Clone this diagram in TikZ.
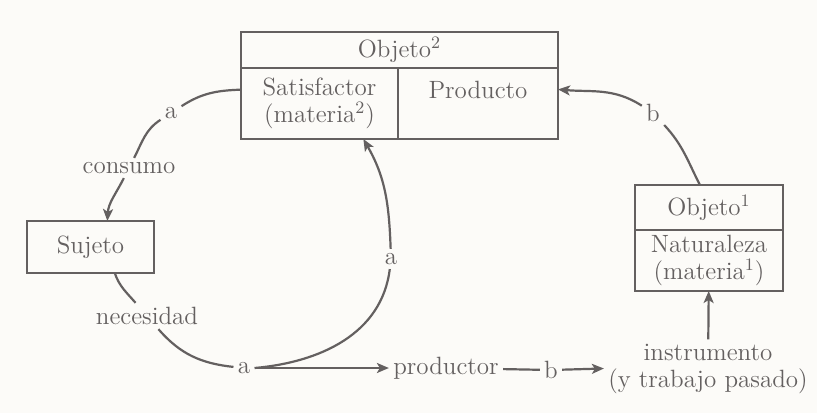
\documentclass[tikz,border=0pt]{standalone}
\usetikzlibrary{positioning,arrows.meta}
\definecolor{ink}{RGB}{100,96,96}
\definecolor{paper}{RGB}{252,251,248}
\tikzset{
  cell/.style={draw=ink, line width=1pt, inner sep=0pt, outer sep=0pt, align=center, text=ink},
  lbl/.style={text=ink, inner sep=2pt, align=center},
  flow/.style={draw=ink, line width=1.1pt},
  arr/.style={flow, -{Stealth[length=6pt,width=5pt,inset=1.5pt]}},
}
\begin{document}
\begin{tikzpicture}[x=0.5pt, y=0.5pt, font=\fontsize{12.5}{13.5}\selectfont]
\fill[paper] (0,0) rectangle (817,413);
\useasboundingbox (0,0) rectangle (817,413);

% Objeto 2
\node[cell, minimum width=158.5pt, minimum height=18pt] (obj2) at (399.5,363) {Objeto\textsuperscript{2}};
\node[cell, minimum width=78.5pt, minimum height=35.5pt, anchor=north west] (sat) at (obj2.south west) {Satisfactor\\(materia\textsuperscript{2})};
\node[cell, minimum width=80pt, minimum height=35.5pt, anchor=north west] (prod) at (sat.north east) {Producto\\\mbox{}};

% Objeto 1
\node[cell, minimum width=74pt, minimum height=22.5pt] (obj1) at (709,205.5) {Objeto\textsuperscript{1}};
\node[cell, minimum width=74pt, minimum height=30.5pt, below=0pt of obj1] (nat) {Naturaleza\\(materia\textsuperscript{1})};

\node[cell, minimum width=63.5pt, minimum height=26pt] (suj) at (90.5,166) {Sujeto};

% labels on the circle
\node[lbl] (a1) at (171,300) {a};
\node[lbl] (cons) at (129,245) {consumo};
\node[lbl] (nec) at (147,97) {necesidad};
\node[lbl] (a2) at (244,45) {a};
\node[lbl] (a3) at (391,154) {a};
\node[lbl] (pdr) at (446,45) {productor};
\node[lbl] (b1) at (551,43) {b};
\node[lbl] (instr) at (708,44.5) {instrumento\\(y trabajo pasado)};
\node[lbl] (b2) at (653,300) {b};

% consumo
\draw[flow] (sat.170) to[out=182, in=33] (a1);
\draw[flow] (a1) to[out=-147, in=63] (cons);
\draw[arr] (cons) to[out=-117, in=87] (suj.57);
% necesidad
\draw[flow] (suj.-47) to[out=-71, in=131] (nec);
\draw[flow] (nec) to[out=-49, in=174] (a2);
% produccion
\draw[arr] (a2) -- (pdr);
\draw[flow] (a2.east) to[out=5, in=-97] (a3);
\draw[arr] (a3) to[out=92, in=-60] (sat.-39);
\draw[flow] (pdr) -- (b1);
\draw[arr] (b1) -- (instr.west);
\draw[arr] (instr) -- (nat);
\draw[flow] (obj1.112) to[out=117, in=-47] (b2);
\draw[arr] (b2) to[out=147, in=-5] (prod.10);
\end{tikzpicture}
\end{document}
